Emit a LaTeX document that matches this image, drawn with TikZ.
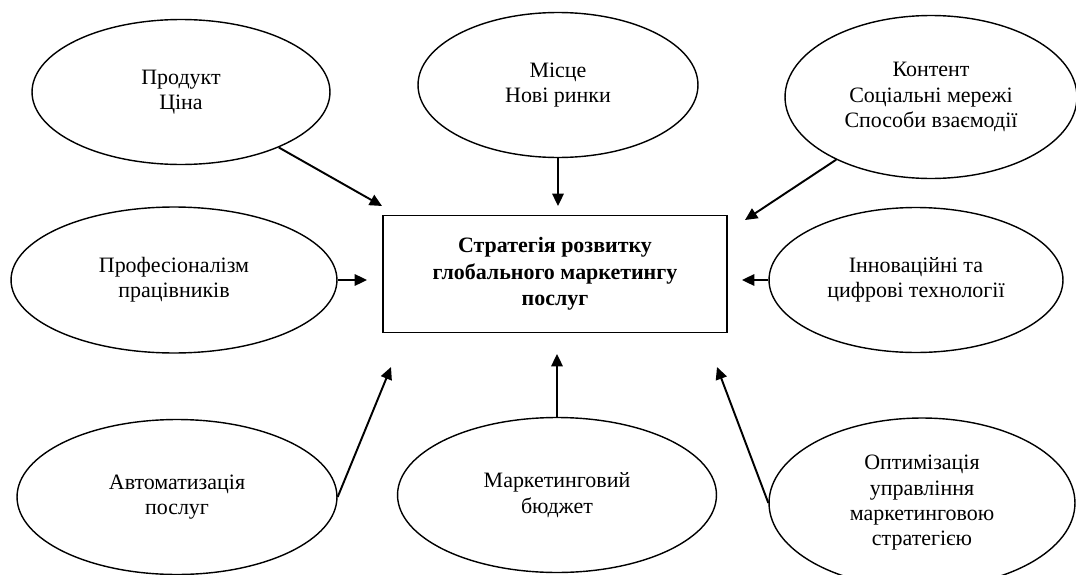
\documentclass[tikz,border=0pt]{standalone}
\usepackage{fontspec}
\setmainfont{Liberation Serif}
\usetikzlibrary{shapes.geometric, arrows.meta, positioning}
\tikzset{
	>={Triangle[length=7pt,width=6.5pt]},
	link/.style={->, line width=1.1pt},
	factor/.style={draw, ellipse, line width=0.8pt, align=center, inner sep=0pt, font=\fontsize{12.5}{14.4}\selectfont},
	goal/.style={draw, rectangle, line width=0.9pt, align=center, minimum width=6.88cm, minimum height=2.34cm, font=\fontsize{12.5}{15}\selectfont\bfseries},
}

\begin{document}
\begin{tikzpicture}[x=0.02cm, y=-0.02cm]
			\useasboundingbox (0,0) rectangle (1076,575);
			
			\node [goal] (STRATEGY) at (555,274) {Стратегія розвитку\\глобального маркетингу\\послуг};
			
			\node [factor, minimum width=5.96cm, minimum height=2.9cm] (PRODUCT) at (181,92) {Продукт\\Ціна};
			\node [factor, minimum width=5.6cm, minimum height=2.9cm] (PLACE) at (558,85) {Місце\\Нові ринки};
			\node [factor, minimum width=5.84cm, minimum height=3.26cm] (CONTENT) at (931,97) {Контент\\Соціальні мережі\\Способи взаємодії};
			\node [factor, minimum width=6.52cm, minimum height=2.92cm] (STAFF) at (174,280) {Професіоналізм\\працівників};
			\node [factor, minimum width=5.88cm, minimum height=2.9cm] (INNOV) at (916,280) {Інноваційні та\\цифрові технології};
			\node [factor, minimum width=6.4cm, minimum height=3.1cm] (AUTO) at (177,497) {Автоматизація\\послуг};
			\node [factor, minimum width=6.38cm, minimum height=3.1cm] (BUDGET) at (557,495) {Маркетинговий\\бюджет};
			\node [factor, minimum width=6.12cm, minimum height=3.4cm] (OPTIM) at (922,503) {Оптимізація\\управління\\маркетинговою\\стратегією};
			
			\coordinate (PRODUCTend) at (382,206);
			\coordinate (PLACEend) at (558,206);
			\coordinate (CONTENTend) at (745,220);
			\coordinate (STAFFend) at (367,280);
			\coordinate (INNOVend) at (742,280);
			\coordinate (AUTOend) at (391,367);
			\coordinate (BUDGETend) at (557,354);
			\coordinate (OPTIMend) at (717,367);
			
			\draw [link] (PRODUCT) -- (PRODUCTend);
			\draw [link] (PLACE) -- (PLACEend);
			\draw [link] (CONTENT) -- (CONTENTend);
			\draw [link] (STAFF) -- (STAFFend);
			\draw [link] (INNOV) -- (INNOVend);
			\draw [link] (AUTO.east) -- (AUTOend);
			\draw [link] (BUDGET) -- (BUDGETend);
			\draw [link] (OPTIM.west) -- (OPTIMend);
			
		\end{tikzpicture}
\end{document}
